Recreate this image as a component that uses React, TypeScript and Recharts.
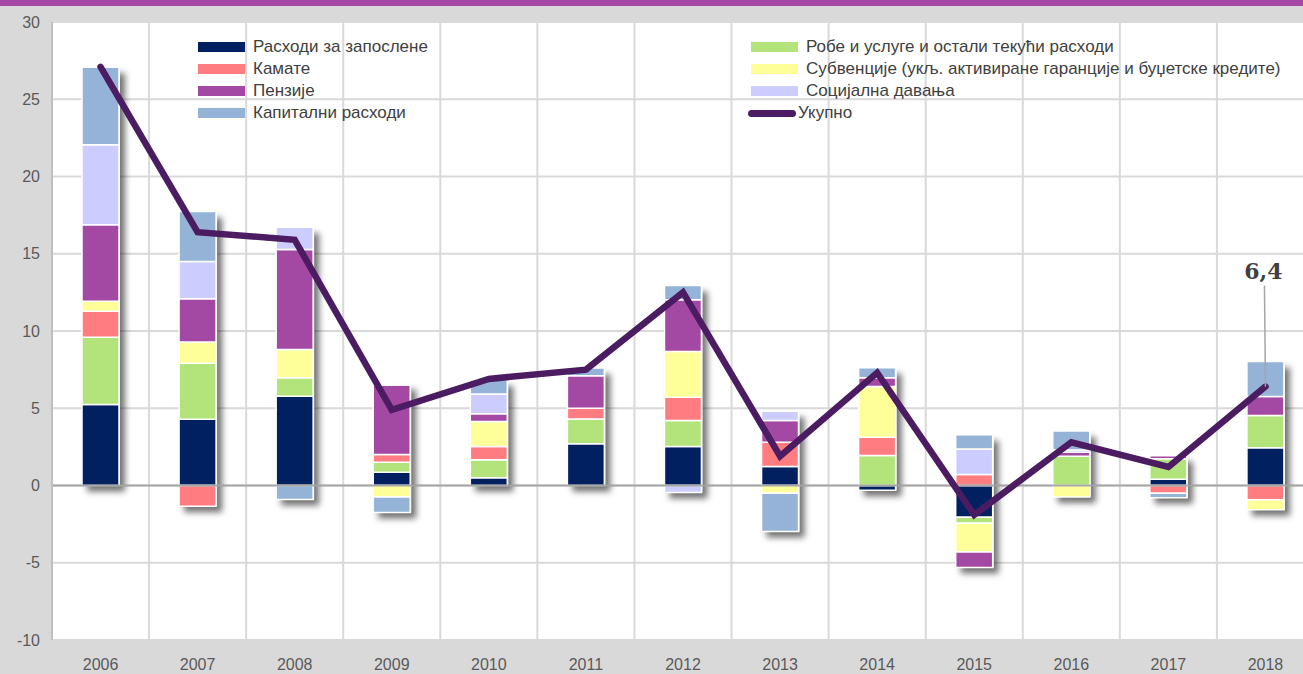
import React from "react";
import {
  ComposedChart,
  Bar,
  Line,
  XAxis,
  YAxis,
  CartesianGrid,
  ReferenceLine,
  Legend,
  LabelList,
} from "recharts";

const years = ["2006", "2007", "2008", "2009", "2010", "2011", "2012", "2013", "2014", "2015", "2016", "2017", "2018"];
const zaposlene = [5.24, 4.29, 5.78, 0.86, 0.5, 2.7, 2.52, 1.23, -0.3, -2.05, 0, 0.4, 2.44];
const robe = [4.36, 3.63, 1.19, 0.65, 1.16, 1.6, 1.69, 0, 1.94, -0.4, 1.9, 1.33, 2.09];
const kamate = [1.68, -1.34, 0, 0.49, 0.86, 0.7, 1.51, 1.57, 1.19, 0.71, 0, -0.5, -0.93];
const subvencije = [0.65, 1.36, 1.83, -0.75, 1.62, 0, 2.95, -0.5, 3.28, -1.85, -0.75, 0, -0.64];
const penzije = [4.94, 2.8, 6.47, 4.5, 0.5, 2.1, 3.35, 1.41, 0.56, -1.0, 0.25, 0.2, 1.23];
const socijalna = [5.18, 2.42, 1.45, 0.1, 1.29, 0, -0.45, 0.6, 0, 1.66, 0.15, 0, 0];
const kapitalni = [5.02, 3.23, -0.9, -1.0, 0.9, 0.5, 0.92, -2.48, 0.65, 0.91, 1.22, -0.3, 2.27];
const ukupno = [27.1, 16.4, 15.9, 4.9, 6.9, 7.5, 12.5, 1.9, 7.3, -1.9, 2.8, 1.2, 6.4];
const yTicks = [-10, -5, 0, 5, 10, 15, 20, 25, 30];

// stack order bottom -> top, and legend order (two columns, row by row)
const SERIES = [
  { key: "zaposlene", name: "Расходи за запослене", color: "#002060", values: zaposlene },
  { key: "robe", name: "Робе и услуге и остали текући расходи", color: "#b3e47b", values: robe },
  { key: "kamate", name: "Камате", color: "#ff7c80", values: kamate },
  { key: "subvencije", name: "Субвенције (укљ. активиране гаранције и буџетске кредите)", color: "#ffff99", values: subvencije },
  { key: "penzije", name: "Пензије", color: "#a349a4", values: penzije },
  { key: "socijalna", name: "Социјална давања", color: "#ccccff", values: socijalna },
  { key: "kapitalni", name: "Капитални расходи", color: "#95b3d7", values: kapitalni },
];
const LINE_COLOR = "#4b1c62";

const data = years.map((year, i) => {
  const row: Record<string, any> = { year, ukupno: ukupno[i] };
  let lo = 0;
  let hi = 0;
  SERIES.forEach((s) => {
    row[s.key] = s.values[i];
    if (s.values[i] < 0) lo += s.values[i];
    else hi += s.values[i];
  });
  row.extent = [lo, hi];
  return row;
});

const FONT = '"Liberation Sans", Arial, sans-serif';

function LegendBox() {
  const items = [
    ...SERIES.map((s) => ({ name: s.name, color: s.color, line: false })),
    { name: "Укупно", color: LINE_COLOR, line: true },
  ];
  return (
    <div
      style={{
        display: "grid",
        gridTemplateColumns: "553px auto",
        fontFamily: FONT,
        fontSize: 17,
        color: "#404040",
      }}
    >
      {items.map((it) => (
        <div key={it.name} style={{ display: "flex", alignItems: "center", height: 22, whiteSpace: "nowrap" }}>
          {it.line ? (
            <span
              style={{
                display: "inline-block",
                width: 48,
                height: 7,
                borderRadius: 4,
                background: it.color,
                marginRight: 2,
              }}
            />
          ) : (
            <span
              style={{
                display: "inline-block",
                width: 47,
                height: 10,
                background: it.color,
                marginLeft: 3,
                marginRight: 8,
              }}
            />
          )}
          {it.name}
        </div>
      ))}
    </div>
  );
}

function LastLabel(props: any) {
  const { x, y, value, index } = props;
  if (index !== years.length - 1) return null;
  return (
    <g>
      <line x1={x} y1={y} x2={x - 1} y2={y - 101} stroke="#a6a6a6" strokeWidth={1.5} />
      <text
        x={x - 2}
        y={y - 108}
        textAnchor="middle"
        fontFamily='"DejaVu Serif", serif'
        fontWeight="bold"
        fontSize={22}
        fill="#404040"
      >
        {String(value).replace(".", ",")}
      </text>
    </g>
  );
}

export default function App() {
  return (
    <div
      style={{
        position: "absolute",
        left: 0,
        top: 0,
        width: 1303,
        height: 674,
        overflow: "hidden",
        background: "#d9d9d9",
      }}
    >
      <style>{".shadow-bar rect, .shadow-bar path{filter:drop-shadow(5px 6px 3px rgba(0,0,0,0.55));}"}</style>
      <div style={{ position: "absolute", left: 0, top: 0, width: 1303, height: 6, background: "#a349a4" }} />
      <ComposedChart
        width={1314}
        height={674}
        data={data}
        stackOffset="sign"
        margin={{ top: 22, right: 0, bottom: 4, left: 0 }}
        style={{ fontFamily: FONT }}
      >
        <CartesianGrid
          fill="#ffffff"
          stroke="#d9d9d9"
          strokeWidth={2}
          verticalCoordinatesGenerator={({ offset }: any) =>
            years.map((_, i) => offset.left + ((i + 1) * offset.width) / years.length)
          }
        />
        <XAxis
          dataKey="year"
          axisLine={false}
          tickLine={false}
          tickSize={0}
          tickMargin={19}
          height={30}
          interval={0}
          tick={{ fill: "#595959", fontSize: 16 }}
        />
        <XAxis xAxisId="s" dataKey="year" hide />
        <YAxis
          domain={[-10, 30]}
          ticks={yTicks}
          width={52}
          axisLine={{ stroke: "#bfbfbf", strokeWidth: 2 }}
          tickLine={false}
          tickSize={0}
          tickMargin={12}
          tick={{ fill: "#595959", fontSize: 16 }}
          allowDataOverflow
        />
        <Legend
          layout="vertical"
          align="center"
          verticalAlign="middle"
          width={1110}
          wrapperStyle={{ top: 36, left: 195 }}
          content={() => <LegendBox />}
        />
        <Bar
          xAxisId="s"
          dataKey="extent"
          className="shadow-bar"
          fill="#ffffff"
          barSize={38}
          isAnimationActive={false}
          legendType="none"
        />
        <ReferenceLine y={0} stroke="#a6a6a6" strokeWidth={2} />
        {SERIES.map((s) => (
          <Bar
            key={s.key}
            dataKey={s.key}
            name={s.name}
            stackId="a"
            fill={s.color}
            stroke="#ffffff"
            strokeWidth={1.5}
            barSize={37}
            isAnimationActive={false}
          />
        ))}
        <Line
          type="linear"
          dataKey="ukupno"
          name="Укупно"
          stroke={LINE_COLOR}
          strokeWidth={6.5}
          strokeLinecap="round"
          dot={false}
          activeDot={false}
          isAnimationActive={false}
        >
          <LabelList dataKey="ukupno" content={LastLabel} />
        </Line>
      </ComposedChart>
    </div>
  );
}
